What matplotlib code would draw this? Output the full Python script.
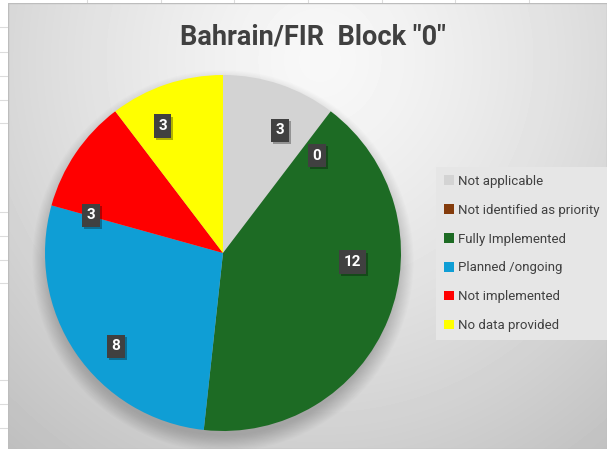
import numpy as np
import matplotlib
matplotlib.use("Agg")
import matplotlib.pyplot as plt
from matplotlib import patheffects as pe
from matplotlib.patches import Circle, Rectangle

# ---------------- data ----------------
title = 'Bahrain/FIR  Block "0"'
categories = ["Not applicable", "Not identified as priority", "Fully Implemented",
              "Planned /ongoing", "Not implemented", "No data provided"]
values = [3, 0, 12, 8, 3, 3]
colors = ["#D3D3D3", "#843C0C", "#1D6B24", "#0F9ED5", "#FF0000", "#FFFF00"]

# label layout (angle clockwise from top in degrees, radius fraction)
label_angles = [25, 44, 94, 229, 286, 334.5]
label_radius = [0.76, 0.76, 0.73, 0.80, 0.77, 0.79]

FONT = ["Roboto", "DejaVu Sans"]
W, H = 607, 449
fig = plt.figure(figsize=(W / 100, H / 100), dpi=100)
fig.patch.set_facecolor("white")

# spreadsheet background strip
bg = fig.add_axes([0, 0, 1, 1])
bg.set_xlim(0, W)
bg.set_ylim(H, 0)
bg.axis("off")
for y in [27, 52, 76, 100, 123, 212, 236, 260, 283, 380, 404, 428]:
    bg.plot([0, 8], [y, y], color="#dcdcdc", lw=0.8)
for x in [87, 161, 234, 308, 382, 455, 529]:
    bg.plot([x, x], [0, 3], color="#dcdcdc", lw=0.8)

# chart area with radial gradient
x0, y0 = 8, 3
ca = fig.add_axes([x0 / W, 0, (W - x0) / W, (H - y0) / H])
ca.axis("off")
xs = np.arange(x0, W) + 0.5
ys = np.arange(y0, H) + 0.5
X, Y = np.meshgrid(xs, ys)
d = np.sqrt(((X - 320) / 400) ** 2 + ((Y - 60) / 420) ** 2)
v = np.clip(248 - 45 * d ** 1.3, 185, 250) / 255.0
ca.imshow(v, cmap="gray", vmin=0, vmax=1, aspect="auto", extent=(0, 1, 0, 1),
          interpolation="bilinear")
ca.set_xlim(0, 1)
ca.set_ylim(0, 1)
ca.add_patch(Rectangle((0, 0), 1, 1, fill=False, ec="#bdbdbd", lw=1.0,
                       transform=ca.transAxes))

# pie axes
cx, cy, R = 223, 253, 178
ax = fig.add_axes([(cx - R) / W, 1 - (cy + R) / H, 2 * R / W, 2 * R / H])
ax.set_xlim(-1, 1)
ax.set_ylim(-1, 1)
ax.axis("off")

# soft shadow (mostly below the pie)
for i in range(16):
    r = 0.975 + 0.006 * (i + 1)
    ax.add_patch(Circle((0, -0.045), r, color="black", alpha=0.013, lw=0,
                        zorder=0, clip_on=False))

wedges, _ = ax.pie(values, colors=colors, startangle=90, counterclock=False,
                   radius=1.0, wedgeprops=dict(linewidth=0), frame=False)
ax.set_xlim(-1, 1)
ax.set_ylim(-1, 1)
ax.set_aspect("auto")

for val, ang, rr in zip(values, label_angles, label_radius):
    a = np.deg2rad(90 - ang)
    t = ax.text(rr * np.cos(a), rr * np.sin(a), str(val), ha="center", va="center",
                color="white", fontsize=11, fontweight="bold", family=FONT, zorder=5,
                bbox=dict(boxstyle="square,pad=0.3", fc="#404040", ec="none"))
    t.get_bbox_patch().set_path_effects([
        pe.SimplePatchShadow(offset=(1.5, -1.5), shadow_rgbFace="black", alpha=0.3),
        pe.Normal()])

# title
fig.text(313 / W, 1 - 37 / H, title, ha="center", va="center", fontsize=19.5,
         fontweight="bold", color="#404040", family=FONT)

# legend
leg = fig.legend(wedges, categories, loc="upper left",
                 bbox_to_anchor=(436 / W, 1 - 167 / H),
                 frameon=True, fancybox=False, facecolor="#e6e6e6", edgecolor="none",
                 framealpha=1, handlelength=0.75, handleheight=0.75, handletextpad=0.3,
                 labelspacing=1.2, borderpad=0.6, borderaxespad=0,
                 prop=dict(family=FONT, size=9.5))
for txt in leg.get_texts():
    txt.set_color("#404040")

fig.savefig("out.png", dpi=100)
